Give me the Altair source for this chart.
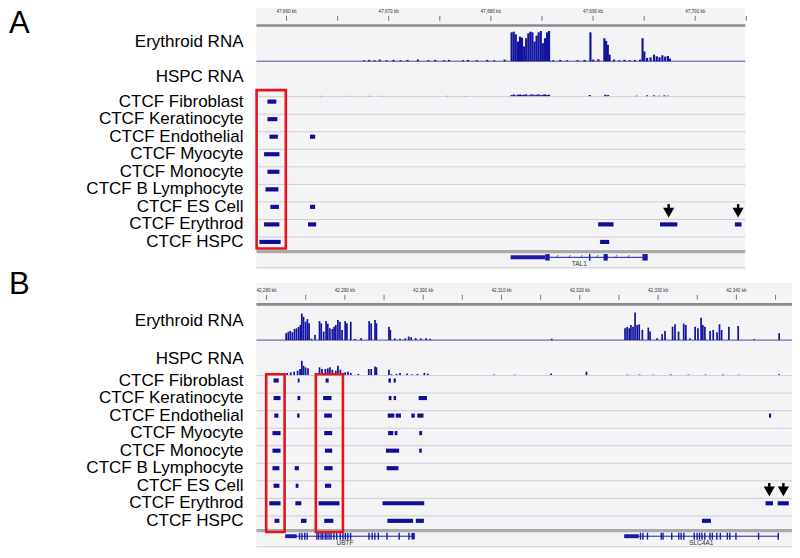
import altair as alt
import pandas as pd

# ---------------- data ----------------
RNA_LABELS = ["Erythroid RNA", "HSPC RNA"]
CTCF_LABELS = ["CTCF Fibroblast", "CTCF Keratinocyte", "CTCF Endothelial", "CTCF Myocyte",
               "CTCF Monocyte", "CTCF B Lymphocyte", "CTCF ES Cell", "CTCF Erythrod", "CTCF HSPC"]
PANEL_LETTERS = {"A": "A", "B": "B"}

X_DOMAIN = {"A": [47657.05, 47704.9], "B": [42278.7, 42347.1]}
RULER_TICKS = {
    "A": [47660, 47665, 47670, 47675, 47680, 47685, 47690, 47695, 47700, 47705],
    "B": [42280, 42285, 42290, 42295, 42300, 42305, 42310, 42315, 42320, 42325,
          42330, 42335, 42340, 42345],
}

# RNA coverage (position kb, relative height)
A_ERY_POS = [47667.48, 47667.99, 47668.5, 47669.01, 47669.69, 47670.37, 47671.05, 47671.73,
             47672.75, 47673.77, 47674.45, 47675.29, 47675.8, 47677.16, 47677.67, 47678.52,
             47679.54, 47680.22, 47681.24,
             47681.92, 47682.13, 47682.33, 47682.54, 47682.74, 47682.94, 47683.15, 47683.35,
             47683.56, 47683.76, 47683.96, 47684.17, 47684.37, 47684.57, 47684.78, 47684.98,
             47685.19, 47685.39, 47685.59,
             47686.0, 47686.68, 47687.36, 47688.38, 47689.06, 47689.64, 47689.91, 47690.42,
             47691.0, 47691.17, 47691.34, 47691.51, 47691.95, 47692.46, 47692.97, 47693.48,
             47693.99, 47694.5, 47694.74, 47694.91, 47695.18, 47695.52, 47695.86, 47696.13,
             47696.4, 47696.68, 47696.95, 47697.22, 47697.42]
A_ERY_VAL = [0.03, 0.04, 0.03, 0.05, 0.03, 0.04, 0.03, 0.04, 0.05, 0.03, 0.04, 0.03, 0.04,
             0.03, 0.04, 0.03, 0.04, 0.03, 0.05,
             0.88, 0.9, 0.82, 0.6, 0.75, 0.72, 0.45, 0.7, 0.85, 0.9, 0.88, 0.6, 0.78, 0.88,
             0.92, 0.55, 0.7, 0.88, 0.92,
             0.03, 0.04, 0.03, 0.03, 0.04, 0.88, 0.05, 0.06, 0.7, 0.62, 0.5, 0.2, 0.05, 0.03,
             0.04, 0.03, 0.04, 0.05, 0.7, 0.3, 0.1, 0.12, 0.2, 0.15, 0.12, 0.18, 0.14, 0.16, 0.08]
A_HSPC_POS = [47663.23, 47665.78, 47667.99, 47669.18, 47675.63, 47677.44,
              47681.92, 47682.13, 47682.33, 47682.54, 47682.74, 47682.94, 47683.15, 47683.35,
              47683.56, 47683.76, 47683.96, 47684.17, 47684.37, 47684.57, 47684.78, 47684.98,
              47685.19, 47685.39, 47685.59,
              47689.57, 47691.1, 47691.37, 47694.16, 47695.18, 47695.86, 47696.37, 47696.88, 47697.22]
A_HSPC_VAL = [0.02, 0.02, 0.02, 0.02, 0.02, 0.02,
              0.05, 0.07, 0.04, 0.06, 0.07, 0.05, 0.06, 0.07, 0.04, 0.06, 0.07, 0.05, 0.06,
              0.07, 0.05, 0.06, 0.07, 0.05, 0.06,
              0.05, 0.06, 0.05, 0.03, 0.04, 0.04, 0.03, 0.04, 0.03]

B_ERY_POS = [42282.39, 42282.66, 42282.92, 42283.19, 42283.46, 42283.72, 42283.99, 42284.21,
             42284.39, 42284.61, 42284.87, 42285.1, 42285.32, 42285.63, 42286.07,
             42286.65, 42286.87, 42287.18, 42287.49, 42287.71, 42287.98, 42288.29, 42288.51,
             42288.73, 42289.0, 42289.26, 42289.53, 42289.93, 42290.15, 42290.64,
             42291.17, 42291.97, 42292.99, 42293.25, 42293.74, 42293.92, 42295.52, 42295.69,
             42296.27, 42296.93, 42297.6, 42298.04, 42298.35, 42298.93, 42299.6, 42300.26,
             42300.79, 42316.31,
             42325.67, 42325.93, 42326.2, 42326.42, 42326.69, 42326.95, 42327.22, 42327.48,
             42327.88, 42328.64, 42328.86, 42329.75, 42330.41, 42330.77, 42331.74, 42332.05,
             42332.5, 42333.16, 42333.43, 42333.96, 42334.62, 42334.98, 42335.38, 42335.6,
             42335.87, 42336.53, 42336.93, 42337.42, 42337.73, 42338.0, 42338.93, 42340.12,
             42342.16, 42345.35]
B_ERY_VAL = [0.21, 0.25, 0.28, 0.24, 0.34, 0.36, 0.4, 0.46, 0.81, 0.71, 0.56, 0.64, 0.51, 0.04, 0.16,
             0.58, 0.51, 0.26, 0.58, 0.5, 0.36, 0.34, 0.41, 0.46, 0.61, 0.56, 0.31, 0.58, 0.51, 0.56,
             0.03, 0.06, 0.58, 0.51, 0.61, 0.51, 0.41, 0.31, 0.05, 0.04, 0.05, 0.11, 0.09, 0.06,
             0.05, 0.06, 0.04, 0.04,
             0.36, 0.4, 0.36, 0.46, 0.41, 0.84, 0.46, 0.48, 0.31, 0.38, 0.26, 0.06, 0.18, 0.28,
             0.41, 0.48, 0.26, 0.5, 0.46, 0.06, 0.41, 0.36, 0.68, 0.46, 0.41, 0.28, 0.31, 0.24,
             0.48, 0.31, 0.41, 0.43, 0.03, 0.21]
B_HSPC_POS = [42282.52, 42282.97, 42283.41, 42283.85, 42284.17, 42284.39, 42284.61, 42284.87,
              42285.18, 42286.65, 42286.96, 42287.4, 42287.71, 42287.98, 42288.29, 42288.73,
              42289.0, 42289.31, 42289.62, 42289.93, 42290.28, 42290.64, 42291.61, 42292.94,
              42293.25, 42293.74, 42293.92, 42295.52, 42295.83, 42296.49, 42296.93, 42297.82,
              42298.49, 42299.15, 42300.04, 42300.48, 42308.91, 42311.57, 42316.22, 42320.74,
              42325.98, 42327.53, 42329.3, 42331.52, 42333.74, 42335.96, 42338.17, 42340.17,
              42345.35]
B_HSPC_VAL = [0.08, 0.1, 0.12, 0.15, 0.2, 0.45, 0.3, 0.25,
              0.22, 0.25, 0.2, 0.2, 0.22, 0.25, 0.18, 0.15,
              0.3, 0.18, 0.08, 0.1, 0.12, 0.08, 0.05, 0.2,
              0.2, 0.28, 0.25, 0.18, 0.04, 0.05, 0.08, 0.06,
              0.04, 0.05, 0.08, 0.06, 0.03, 0.03, 0.06, 0.12,
              0.03, 0.03, 0.03, 0.03, 0.03, 0.03, 0.03, 0.03,
              0.04]

# CTCF peaks (row index, start kb, end kb)
A_PEAK_ROW = [0, 1, 2, 2, 3, 4, 5, 6, 6, 7, 7, 7, 7, 7, 8, 8]
A_PEAK_START = [47658.13, 47658.13, 47658.33, 47662.3, 47657.8, 47658.13, 47657.94, 47658.42,
                47662.3, 47657.8, 47662.1, 47690.5, 47696.55, 47703.88, 47657.35, 47690.69]
A_PEAK_END = [47659.0, 47659.1, 47659.15, 47662.8, 47659.3, 47659.3, 47659.2, 47659.25,
              47662.8, 47659.3, 47662.9, 47692.0, 47698.25, 47704.53, 47659.42, 47691.58]

B_PEAK_ROW = [0, 0, 0, 0, 0,
              1, 1, 1, 1, 1, 1,
              2, 2, 2, 2, 2, 2, 2, 2,
              3, 3, 3, 3, 3,
              4, 4, 4, 4,
              5, 5, 5, 5,
              6, 6, 6,
              7, 7, 7, 7, 7, 7,
              8, 8, 8, 8, 8, 8]
B_PEAK_START = [42280.89, 42283.98, 42287.54, 42295.56, 42296.23,
                42280.89, 42283.95, 42287.22, 42295.6, 42296.23, 42299.42,
                42280.98, 42283.9, 42287.36, 42295.47, 42296.5, 42298.49, 42299.25, 42344.16,
                42280.75, 42287.36, 42295.52, 42296.36, 42299.5,
                42280.75, 42287.45, 42295.25, 42299.5,
                42280.75, 42283.59, 42287.36, 42295.34,
                42280.89, 42283.72, 42287.45,
                42280.34, 42283.68, 42286.65, 42294.81, 42343.72, 42345.27,
                42281.02, 42284.39, 42287.36, 42295.43, 42299.06, 42335.6]
B_PEAK_END = [42281.55, 42284.21, 42287.93, 42295.88, 42296.5,
              42281.78, 42284.3, 42288.29, 42295.95, 42296.54, 42300.48,
              42281.51, 42284.21, 42288.34, 42296.32, 42297.16, 42298.93, 42300.04, 42344.43,
              42281.78, 42288.38, 42296.18, 42296.71, 42299.86,
              42281.78, 42288.38, 42296.93, 42299.82,
              42281.64, 42284.12, 42288.43, 42296.84,
              42281.64, 42284.07, 42288.25,
              42281.78, 42284.43, 42289.31, 42300.13, 42344.68, 42346.69,
              42281.64, 42285.1, 42288.52, 42298.71, 42300.09, 42336.75]

ARROWS = {"A": [47697.4, 47704.2], "B": [42344.2, 42346.0]}
RED_BOX_START = {"A": [47657.07], "B": [42279.95, 42286.29]}
RED_BOX_END = {"A": [47659.93], "B": [42282.3, 42289.75]}

# gene models
GENE_NAMES = {"A": ["TAL1"], "B": ["UBTF", "SLC4A1"]}
GENE_LABEL_POS = {"A": [47688.65], "B": [42290.02, 42335.51]}
GENE_START = {"A": [47685.76], "B": [42282.39, 42325.67]}
GENE_END = {"A": [47694.83], "B": [42298.93, 42345.35]}
UTR_START = {"A": [47681.93], "B": [42282.39, 42325.67]}
UTR_END = {"A": [47685.32], "B": [42283.85, 42327.53]}
BOX_START = {"A": [47685.32, 47691.03, 47694.83], "B": [42298.49]}
BOX_END = {"A": [47685.76, 47691.44, 47695.35], "B": [42298.93]}
EXON_POS = {
    "A": [47689.67],
    "B": [42284.21, 42284.52, 42284.87, 42285.18, 42286.43, 42286.65, 42286.96, 42287.18,
          42287.49, 42287.71, 42287.98, 42288.24, 42288.6, 42288.95, 42289.4, 42289.75,
          42290.06, 42290.37, 42290.73, 42293.08, 42293.48, 42293.83, 42294.27, 42295.38,
          42296.93, 42298.18,
          42327.75, 42328.06, 42328.64, 42330.41, 42330.63, 42331.74, 42332.63, 42332.94,
          42333.29, 42334.62, 42334.98, 42335.29, 42335.6, 42335.96, 42336.62, 42336.93,
          42337.5, 42337.95, 42338.84, 42339.15, 42339.94, 42342.83, 42345.35],
}
STRAND_POS = {"A": [47686.51, 47687.7, 47688.89, 47690.42, 47692.29, 47693.48], "B": []}

# ---------------- layout / style ----------------
FONT = "Liberation Sans"
BAR_COLOR = "#0f0f96"
RNA_COLOR = "#13139e"
GENE_COLOR = "#1a1aa8"
BG = "#f4f4f6"
PANEL_OFF = {"A": 0.0, "B": 283.0}
LETTER_Y = {"A": 31, "B": 296}
RNA_LABEL_Y = {"A": [40, 76], "B": [324, 362]}
REDBOX_Y = {"A": (89.3, 250.0), "B": (377.7, 537.7)}
XL = 248.4
XR = {"A": 737.3, "B": 784.0}
LABEL_X = 235.5
ROW0, ROW_H = 96.0, 17.8
TRACK_H = 33.3
BIN = {"A": 0.21, "B": 0.22}

YS = alt.Scale(domain=[6, 556], range=[0, 542], nice=False, zero=False)


def Y(f="y"):
    return alt.Y(f"{f}:Q", scale=YS, axis=None)


def panel_layers(p):
    off = PANEL_OFF[p]
    lo, hi = X_DOMAIN[p]
    xs = alt.Scale(domain=[lo, hi], range=[XL, XR[p]], nice=False, zero=False)

    def X(f="x"):
        return alt.X(f"{f}:Q", scale=xs, axis=None)

    L = []
    # track background
    bg = pd.DataFrame({"x": [lo], "x2": [hi], "y": [off + 2], "y2": [off + 271]})
    L.append(alt.Chart(bg).mark_rect(color=BG).encode(x=X(), x2="x2:Q", y=Y(), y2="y2:Q"))

    # ruler
    t = pd.DataFrame({"x": RULER_TICKS[p]})
    t["y"] = off + 14
    t["y2"] = off + 19
    L.append(alt.Chart(t).mark_rule(color="#555555", strokeWidth=0.8).encode(x=X(), y=Y(), y2="y2:Q"))
    tl = t[t["x"] % 10 == 0].copy()
    tl["label"] = [f"{v:,} kb" for v in tl["x"]]
    tl["y"] = off + 10
    L.append(alt.Chart(tl).mark_text(font=FONT, fontSize=4.6, color="#333333", baseline="middle")
             .encode(x=X(), y=Y(), text="label:N"))
    rl = pd.DataFrame({"x": [lo], "x2": [hi], "y": [off + 23.7]})
    L.append(alt.Chart(rl).mark_rule(color="#8a8a8a", strokeWidth=2.6).encode(x=X(), x2="x2:Q", y=Y()))

    # RNA tracks
    ery_base = off + 60
    hspc_base = off + 96
    base = pd.DataFrame({"x": [lo], "x2": [hi], "y": [ery_base]})
    L.append(alt.Chart(base).mark_rule(color="#4a4ab0", strokeWidth=1).encode(x=X(), x2="x2:Q", y=Y()))
    ery_pos = A_ERY_POS if p == "A" else B_ERY_POS
    ery_val = A_ERY_VAL if p == "A" else B_ERY_VAL
    hs_pos = A_HSPC_POS if p == "A" else B_HSPC_POS
    hs_val = A_HSPC_VAL if p == "A" else B_HSPC_VAL
    rows = []
    for pos, v in zip(ery_pos, ery_val):
        rows.append({"x": pos, "x2": pos + BIN[p], "y": ery_base - v * TRACK_H, "y2": ery_base})
    for pos, v in zip(hs_pos, hs_val):
        rows.append({"x": pos, "x2": pos + BIN[p], "y": hspc_base - max(v * TRACK_H, 0.8), "y2": hspc_base})
    sig = pd.DataFrame(rows)
    L.append(alt.Chart(sig).mark_rect(color=RNA_COLOR).encode(x=X(), x2="x2:Q", y=Y(), y2="y2:Q"))

    # row separators
    sep = pd.DataFrame({"i": list(range(9))})
    sep["y"] = off + ROW0 + sep["i"] * ROW_H
    sep["x"] = lo
    sep["x2"] = hi
    L.append(alt.Chart(sep).mark_rule(color="#cdcdd4", strokeWidth=1).encode(x=X(), x2="x2:Q", y=Y()))
    gb = pd.DataFrame({"x": [lo], "x2": [hi], "y": [off + 253.3]})
    L.append(alt.Chart(gb).mark_rule(color="#ababab", strokeWidth=3.3).encode(x=X(), x2="x2:Q", y=Y()))
    bl = pd.DataFrame({"x": [lo], "x2": [hi], "y": [off + 269.5]})
    L.append(alt.Chart(bl).mark_rule(color="#d4d4d8", strokeWidth=1).encode(x=X(), x2="x2:Q", y=Y()))

    # CTCF peaks
    prow = A_PEAK_ROW if p == "A" else B_PEAK_ROW
    pst = A_PEAK_START if p == "A" else B_PEAK_START
    pen = A_PEAK_END if p == "A" else B_PEAK_END
    pk = pd.DataFrame({"row": prow, "x": pst, "x2": pen})
    pk["yc"] = off + ROW0 + pk["row"] * ROW_H + 5
    pk["y"] = pk["yc"] - 2.1
    pk["y2"] = pk["yc"] + 2.1
    L.append(alt.Chart(pk).mark_rect(color=BAR_COLOR).encode(x=X(), x2="x2:Q", y=Y(), y2="y2:Q"))

    # gene track
    gy = off + 259
    gl = pd.DataFrame({"x": GENE_START[p], "x2": GENE_END[p]})
    gl["y"] = gy
    L.append(alt.Chart(gl).mark_rule(color=GENE_COLOR, strokeWidth=1).encode(x=X(), x2="x2:Q", y=Y()))
    utr = pd.DataFrame({"x": UTR_START[p], "x2": UTR_END[p]})
    utr["y"] = gy - 2
    utr["y2"] = gy + 2
    L.append(alt.Chart(utr).mark_rect(color=GENE_COLOR).encode(x=X(), x2="x2:Q", y=Y(), y2="y2:Q"))
    bx = pd.DataFrame({"x": BOX_START[p], "x2": BOX_END[p]})
    bx["y"] = gy - 3.3
    bx["y2"] = gy + 3.3
    L.append(alt.Chart(bx).mark_rect(color=GENE_COLOR).encode(x=X(), x2="x2:Q", y=Y(), y2="y2:Q"))
    ex = pd.DataFrame({"x": EXON_POS[p]})
    ex["y"] = gy - 3.5
    ex["y2"] = gy + 3.5
    L.append(alt.Chart(ex).mark_rule(color=GENE_COLOR, strokeWidth=1.4).encode(x=X(), y=Y(), y2="y2:Q"))
    if STRAND_POS[p]:
        st = pd.DataFrame({"x": STRAND_POS[p]})
        st["y"] = gy
        st["t"] = "‹"
        L.append(alt.Chart(st).mark_text(font=FONT, fontSize=7, color=GENE_COLOR, baseline="middle")
                 .encode(x=X(), y=Y(), text="t:N"))
    gn = pd.DataFrame({"x": GENE_LABEL_POS[p], "name": GENE_NAMES[p]})
    gn["y"] = gy + 6.7
    L.append(alt.Chart(gn).mark_text(font=FONT, fontSize=6.5, color="#333333", baseline="middle")
             .encode(x=X(), y=Y(), text="name:N"))

    # red boxes
    y1, y2 = REDBOX_Y[p]
    rb = pd.DataFrame({"x": RED_BOX_START[p], "x2": RED_BOX_END[p]})
    rb["y"] = y1
    rb["y2"] = y2
    L.append(alt.Chart(rb).mark_rect(fillOpacity=0, stroke="#e3161d", strokeWidth=2.6)
             .encode(x=X(), x2="x2:Q", y=Y(), y2="y2:Q"))

    # arrows
    ar = pd.DataFrame({"x": ARROWS[p]})
    ar["y"] = off + 205
    ar["y2"] = off + 211
    ar["yh"] = off + 213.6
    L.append(alt.Chart(ar).mark_rule(color="black", strokeWidth=2.4).encode(x=X(), y=Y(), y2="y2:Q"))
    L.append(alt.Chart(ar).mark_point(shape="triangle-down", filled=True, size=125, color="black", opacity=1)
             .encode(x=X(), y=Y("yh")))

    # left labels
    lab = pd.DataFrame({"label": RNA_LABELS + CTCF_LABELS})
    lab["y"] = RNA_LABEL_Y[p] + [off + ROW0 + i * ROW_H + 5 for i in range(len(CTCF_LABELS))]
    L.append(alt.Chart(lab).mark_text(font=FONT, fontSize=17, color="black", align="right", baseline="middle")
             .encode(x=alt.value(LABEL_X), y=Y(), text="label:N"))

    # panel letter
    let = pd.DataFrame({"t": [PANEL_LETTERS[p]], "y": [LETTER_Y[p]]})
    L.append(alt.Chart(let).mark_text(font=FONT, fontSize=31, color="black", align="left", baseline="alphabetic")
             .encode(x=alt.value(1), y=Y(), text="t:N"))
    return L


layers = panel_layers("A") + panel_layers("B")
chart = (
    alt.layer(*layers)
    .resolve_scale(x="independent")
    .properties(width=784, height=542, padding=0, autosize=alt.AutoSizeParams(type="none"),
                background="white")
    .configure_view(stroke=None)
)
chart.save("out.html", embed_options={"renderer": "svg", "actions": False})
